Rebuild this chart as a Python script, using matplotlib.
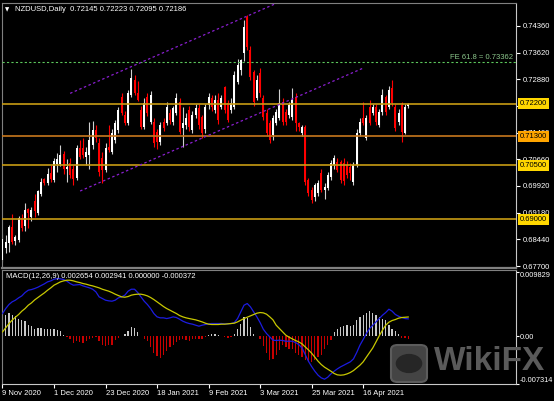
import matplotlib.pyplot as plt
from matplotlib.patches import FancyBboxPatch, Circle

plt.rcParams['font.family'] = ['Liberation Sans', 'DejaVu Sans']

# daily OHLC (bar 0 = 9 Nov 2020)
opens = [0.6787, 0.6820, 0.6834, 0.6878, 0.6839, 0.6842, 0.6903, 0.6880, 0.6928, 0.6906,
         0.6950, 0.6917, 0.6970, 0.7011, 0.7000, 0.7028, 0.7008, 0.7053, 0.7053, 0.7081,
         0.7039, 0.7056, 0.7040, 0.7014, 0.7097, 0.7097, 0.7072, 0.7078, 0.7106, 0.7147,
         0.7111, 0.7070, 0.7036, 0.7100, 0.7086, 0.7120, 0.7147, 0.7239, 0.7189, 0.7167,
         0.7245, 0.7286, 0.7250, 0.7203, 0.7156, 0.7239, 0.7170, 0.7170, 0.7142, 0.7114,
         0.7170, 0.7167, 0.7195, 0.7170, 0.7195, 0.7225, 0.7153, 0.7161, 0.7203, 0.7147,
         0.7189, 0.7208, 0.7184, 0.7150, 0.7217, 0.7236, 0.7203, 0.7231, 0.7211, 0.7267,
         0.7222, 0.7203, 0.7211, 0.7281, 0.7314, 0.7361, 0.7461, 0.7369, 0.7308, 0.7236,
         0.7306, 0.7236, 0.7195, 0.7167, 0.7134, 0.7167, 0.7181, 0.7225, 0.7197, 0.7189,
         0.7183, 0.7239, 0.7167, 0.7139, 0.7156, 0.7009, 0.6981, 0.6962, 0.6973, 0.7028,
         0.6981, 0.6986, 0.7017, 0.7050, 0.7058, 0.7058, 0.7055, 0.7050, 0.7045, 0.7003,
         0.7050, 0.7139, 0.7181, 0.7125, 0.7211, 0.7195, 0.7211, 0.7161, 0.7197, 0.7239,
         0.7211, 0.7264, 0.7211, 0.7170, 0.7217, 0.7140, 0.72145]
highs = [0.6858, 0.6856, 0.6885, 0.6914, 0.6856, 0.6910, 0.6914, 0.6945, 0.6932, 0.6934,
         0.6970, 0.6982, 0.7014, 0.7014, 0.7042, 0.7050, 0.7070, 0.7084, 0.7106, 0.7090,
         0.7067, 0.7070, 0.7050, 0.7106, 0.7120, 0.7125, 0.7100, 0.7170, 0.7172, 0.7160,
         0.7125, 0.7085, 0.7110, 0.7160, 0.7150, 0.7175, 0.7210, 0.7250, 0.7200, 0.7258,
         0.7317, 0.7300, 0.7283, 0.7215, 0.7235, 0.7250, 0.7255, 0.7180, 0.7150, 0.7170,
         0.7180, 0.7225, 0.7205, 0.7215, 0.7250, 0.7236, 0.7210, 0.7195, 0.7215, 0.7200,
         0.7220, 0.7220, 0.7190, 0.7220, 0.7250, 0.7245, 0.7245, 0.7250, 0.7245, 0.7270,
         0.7230, 0.7235, 0.7310, 0.7345, 0.7345, 0.7453, 0.7466, 0.7380, 0.7315, 0.7300,
         0.7320, 0.7245, 0.7205, 0.7175, 0.7190, 0.7205, 0.7260, 0.7235, 0.7205, 0.7225,
         0.7265, 0.7250, 0.7170, 0.7160, 0.7160, 0.7015, 0.6990, 0.7000, 0.7010, 0.7040,
         0.7000, 0.7030, 0.7065, 0.7078, 0.7070, 0.7065, 0.7070, 0.7060, 0.7055, 0.7058,
         0.7150, 0.7180, 0.7225, 0.7190, 0.7230, 0.7220, 0.7220, 0.7205, 0.7260, 0.7245,
         0.7270, 0.7286, 0.7220, 0.7205, 0.7225, 0.7220, 0.72223]
lows = [0.6780, 0.6805, 0.6808, 0.6830, 0.6828, 0.6838, 0.6868, 0.6866, 0.6875, 0.6895,
        0.6906, 0.6912, 0.6965, 0.6995, 0.6995, 0.7003, 0.7003, 0.7031, 0.7048, 0.7026,
        0.7003, 0.7015, 0.6995, 0.7008, 0.7066, 0.7070, 0.7050, 0.7040, 0.7095, 0.7115,
        0.7020, 0.7000, 0.7030, 0.7085, 0.7080, 0.7110, 0.7140, 0.7190, 0.7160, 0.7160,
        0.7240, 0.7245, 0.7228, 0.7150, 0.7150, 0.7185, 0.7165, 0.7100, 0.7094, 0.7105,
        0.7145, 0.7160, 0.7165, 0.7160, 0.7190, 0.7135, 0.7100, 0.7150, 0.7145, 0.7140,
        0.7180, 0.7150, 0.7125, 0.7140, 0.7205, 0.7200, 0.7195, 0.7165, 0.7205, 0.7195,
        0.7170, 0.7195, 0.7205, 0.7275, 0.7300, 0.7340, 0.7370, 0.7285, 0.7215, 0.7230,
        0.7240, 0.7175, 0.7130, 0.7110, 0.7120, 0.7160, 0.7175, 0.7160, 0.7160, 0.7180,
        0.7175, 0.7145, 0.7145, 0.7130, 0.6995, 0.6965, 0.6945, 0.6950, 0.6965, 0.6975,
        0.6955, 0.6980, 0.7010, 0.7040, 0.7030, 0.7000, 0.6995, 0.7015, 0.7010, 0.6995,
        0.7045, 0.7130, 0.7160, 0.7120, 0.7160, 0.7190, 0.7160, 0.7155, 0.7190, 0.7190,
        0.7205, 0.7215, 0.7145, 0.7160, 0.7115, 0.7135, 0.72095]
closes = [0.6845, 0.6837, 0.6878, 0.6837, 0.6850, 0.6903, 0.6875, 0.6925, 0.6917, 0.6925,
          0.6922, 0.6978, 0.7003, 0.7000, 0.7025, 0.7011, 0.7061, 0.7067, 0.7078, 0.7039,
          0.7045, 0.7022, 0.7011, 0.7097, 0.7072, 0.7078, 0.7086, 0.7120, 0.7147, 0.7125,
          0.7031, 0.7035, 0.7097, 0.7092, 0.7139, 0.7167, 0.7203, 0.7195, 0.7167, 0.7250,
          0.7292, 0.7250, 0.7231, 0.7156, 0.7222, 0.7195, 0.7245, 0.7111, 0.7114, 0.7161,
          0.7153, 0.7211, 0.7175, 0.7208, 0.7236, 0.7142, 0.7167, 0.7181, 0.7156, 0.7189,
          0.7208, 0.7161, 0.7139, 0.7210, 0.7239, 0.7211, 0.7231, 0.7175, 0.7236, 0.7203,
          0.7175, 0.7222, 0.7300, 0.7328, 0.7342, 0.7433, 0.7378, 0.7294, 0.7225, 0.7286,
          0.7250, 0.7183, 0.7139, 0.7120, 0.7181, 0.7197, 0.7222, 0.7170, 0.7170, 0.7217,
          0.7231, 0.7167, 0.7156, 0.7156, 0.7003, 0.6973, 0.6953, 0.6995, 0.7000, 0.6981,
          0.6989, 0.7022, 0.7056, 0.7070, 0.7036, 0.7008, 0.7005, 0.7022, 0.7028, 0.7050,
          0.7139, 0.7170, 0.7167, 0.7181, 0.7167, 0.7211, 0.7170, 0.7197, 0.7245, 0.7197,
          0.7258, 0.7222, 0.7153, 0.7195, 0.7142, 0.7212, 0.72186]

# MACD(12,26,9) panel
macd_main = [0.00347, 0.00423, 0.00485, 0.00526, 0.00551, 0.00587, 0.00617, 0.00668, 0.00704, 0.00714,
             0.00730, 0.00750, 0.00776, 0.00801, 0.00832, 0.00847, 0.00872, 0.00883, 0.00878, 0.00867,
             0.00842, 0.00806, 0.00781, 0.00786, 0.00791, 0.00770, 0.00755, 0.00740, 0.00719, 0.00679,
             0.00602, 0.00577, 0.00551, 0.00541, 0.00536, 0.00551, 0.00587, 0.00602, 0.00628, 0.00689,
             0.00719, 0.00719, 0.00668, 0.00602, 0.00536, 0.00485, 0.00423, 0.00347, 0.00296, 0.00281,
             0.00281, 0.00270, 0.00281, 0.00296, 0.00286, 0.00260, 0.00230, 0.00209, 0.00194, 0.00184,
             0.00168, 0.00153, 0.00168, 0.00179, 0.00189, 0.00194, 0.00194, 0.00194, 0.00194, 0.00189,
             0.00189, 0.00194, 0.00209, 0.00270, 0.00372, 0.00474, 0.00500, 0.00449, 0.00372, 0.00296,
             0.00209, 0.00107, 0.00041, -0.00010, -0.00061, -0.00066, -0.00061, -0.00066, -0.00077, -0.00077,
             -0.00077, -0.00097, -0.00128, -0.00179, -0.00281, -0.00383, -0.00464, -0.00536, -0.00597, -0.00638,
             -0.00658, -0.00628, -0.00577, -0.00536, -0.00500, -0.00469, -0.00444, -0.00418, -0.00393, -0.00347,
             -0.00250, -0.00138, -0.00051, 0.00041, 0.00117, 0.00168, 0.00219, 0.00270, 0.00321, 0.00362,
             0.00413, 0.00383, 0.00332, 0.00306, 0.00286, 0.00270, 0.00265]
macd_signal = [0.00066, 0.00128, 0.00194, 0.00245, 0.00291, 0.00332, 0.00383, 0.00423, 0.00474, 0.00510,
               0.00556, 0.00592, 0.00628, 0.00663, 0.00704, 0.00740, 0.00781, 0.00806, 0.00832, 0.00847,
               0.00857, 0.00857, 0.00847, 0.00832, 0.00821, 0.00806, 0.00796, 0.00781, 0.00770, 0.00755,
               0.00740, 0.00719, 0.00704, 0.00689, 0.00668, 0.00643, 0.00622, 0.00602, 0.00597, 0.00607,
               0.00628, 0.00638, 0.00643, 0.00643, 0.00633, 0.00617, 0.00592, 0.00561, 0.00526, 0.00490,
               0.00454, 0.00423, 0.00398, 0.00372, 0.00347, 0.00316, 0.00296, 0.00281, 0.00270, 0.00260,
               0.00250, 0.00235, 0.00219, 0.00199, 0.00184, 0.00179, 0.00179, 0.00179, 0.00184, 0.00184,
               0.00189, 0.00194, 0.00199, 0.00219, 0.00245, 0.00270, 0.00291, 0.00311, 0.00332, 0.00352,
               0.00362, 0.00357, 0.00337, 0.00296, 0.00250, 0.00168, 0.00117, 0.00066, 0.00015, -0.00015,
               -0.00041, -0.00066, -0.00087, -0.00117, -0.00163, -0.00209, -0.00260, -0.00321, -0.00383, -0.00434,
               -0.00474, -0.00505, -0.00536, -0.00571, -0.00592, -0.00597, -0.00592, -0.00577, -0.00556, -0.00526,
               -0.00485, -0.00444, -0.00393, -0.00321, -0.00250, -0.00179, -0.00087, 0.00005, 0.00092, 0.00168,
               0.00214, 0.00240, 0.00255, 0.00276, 0.00286, 0.00290, 0.00294]
macd_hist = [0.00270, 0.00332, 0.00362, 0.00332, 0.00311, 0.00270, 0.00255, 0.00230, 0.00179, 0.00158,
             0.00117, 0.00128, 0.00128, 0.00117, 0.00117, 0.00107, 0.00107, 0.00102, 0.00077, 0.00015,
             -0.00010, -0.00046, -0.00097, -0.00077, -0.00087, -0.00097, -0.00071, -0.00046, -0.00026, -0.00010,
             -0.00077, -0.00138, -0.00153, -0.00138, -0.00128, -0.00061, -0.00026, 0.00005, 0.00026, 0.00077,
             0.00143, 0.00128, 0.00066, 0.0, -0.00036, -0.00077, -0.00163, -0.00250, -0.00301, -0.00332,
             -0.00281, -0.00230, -0.00163, -0.00128, -0.00087, -0.00061, -0.00046, -0.00061, -0.00077, -0.00046,
             -0.00036, -0.00046, -0.00036, -0.00010, 0.00015, 0.00026, 0.00031, 0.00015, 0.00005, -0.00010,
             -0.00026, -0.00010, 0.00026, 0.00107, 0.00194, 0.00296, 0.00281, 0.00143, 0.00041, 0.00005,
             -0.00046, -0.00148, -0.00250, -0.00367, -0.00352, -0.00291, -0.00214, -0.00138, -0.00163, -0.00189,
             -0.00189, -0.00250, -0.00291, -0.00316, -0.00367, -0.00393, -0.00393, -0.00367, -0.00316, -0.00291,
             -0.00189, -0.00138, -0.00061, 0.00066, 0.00117, 0.00143, 0.00158, 0.00168, 0.00158, 0.00168,
             0.00245, 0.00296, 0.00321, 0.00357, 0.00383, 0.00357, 0.00321, 0.00296, 0.00270, 0.00245,
             0.00168, 0.00117, 0.00077, 0.00026, -0.00026, -0.00026, -0.00037]

date_ticks = [0, 16, 32, 48, 64, 80, 96, 112]
date_labels = ['9 Nov 2020', '1 Dec 2020', '23 Dec 2020', '18 Jan 2021',
               '9 Feb 2021', '3 Mar 2021', '25 Mar 2021', '16 Apr 2021']
price_ticks = [0.7436, 0.7362, 0.7288, 0.7214, 0.7140, 0.7066, 0.6992, 0.6918, 0.6844, 0.6770]
levels = [0.7220, 0.7130, 0.7050, 0.6900]
level_line_colors = ['#c89b14', '#c8781e', '#c89b14', '#c89b14']
level_box_colors = ['#ffd700', '#ffa500', '#ffd700', '#ffd700']
fe_level = 0.73362
channel_up_x, channel_up_y = [21.0, 84.6], [0.7249, 0.7497]
channel_lo_x, channel_lo_y = [24.1, 112.0], [0.6978, 0.7319]

W, H = 554, 401


def box(l, t, r, b):
    return [l / W, 1 - b / H, (r - l) / W, (b - t) / H]


fig = plt.figure(figsize=(W / 100, H / 100), dpi=100, facecolor='black')
ax = fig.add_axes(box(2, 3, 516, 268))
ax2 = fig.add_axes(box(2, 270, 516, 384), sharex=ax)

x = list(range(len(closes)))

# candles
for i in x:
    o, h, l, c = opens[i], highs[i], lows[i], closes[i]
    up = c >= o
    body = '#ffffff' if up else '#ff0000'
    wick = '#d0d0d0' if up else '#ff0000'
    ax.vlines(i, l, h, color=wick, lw=0.8, zorder=2)
    ax.bar(i, max(abs(c - o), 0.00012), bottom=min(o, c), width=0.62,
           color=body, linewidth=0, zorder=3)

# support / resistance levels
for lvl, lc in zip(levels, level_line_colors):
    ax.axhline(lvl, color=lc, lw=1.2, zorder=4)

ax.axhline(fe_level, color='#5cc85c', lw=0.8, ls=(0, (2, 2)), zorder=4)
ax.text(0.995, fe_level + 0.0011, 'FE 61.8 = 0.73362', transform=ax.get_yaxis_transform(),
        ha='right', va='center', color='#8cc88c', fontsize=5.5)

ax.plot(channel_up_x, channel_up_y, color='#8a1fd0', lw=0.9, ls=(0, (2, 2)), zorder=4)
ax.plot(channel_lo_x, channel_lo_y, color='#8a1fd0', lw=0.9, ls=(0, (2, 2)), zorder=4)

ax.set_xlim(-0.155, 159.47)
ax.set_ylim(0.67645, 0.74997)
ax.set_facecolor('black')
ax.yaxis.tick_right()
ax.set_yticks(price_ticks)
# 0.72140 sits fully under the 0.72200 level box, so its label is left blank
ax.set_yticklabels(['' if p == 0.7214 else f'{p:.5f}' for p in price_ticks])
ax.tick_params(axis='y', colors='white', labelsize=5.5, length=3, width=0.8, pad=2)
ax.tick_params(axis='x', bottom=False, labelbottom=False)

for lvl, bc in zip(levels, level_box_colors):
    ax.text(1.007, lvl, f'{lvl:.5f}', transform=ax.get_yaxis_transform(),
            ha='left', va='center', color='black', fontsize=5.5, zorder=10, clip_on=False,
            bbox=dict(boxstyle='square,pad=0.25', fc=bc, ec='none'))

for side in ['left', 'top']:
    ax.spines[side].set_color('#808080')
ax.spines['bottom'].set_color('#808080')
ax.spines['bottom'].set_linewidth(1.6)
ax.spines['right'].set_color('#c8c8c8')

# MACD panel
hist_colors = ['#c8c8c8' if v >= 0 else '#c80000' for v in macd_hist]
ax2.bar(x, macd_hist, width=0.4, color=hist_colors, linewidth=0, zorder=2)
ax2.plot(x, macd_main, color='#1c1ce0', lw=0.9, zorder=3)
ax2.plot(x, macd_signal, color='#c8c800', lw=0.9, zorder=3)
ax2.set_ylim(-0.007317, 0.010133)
ax2.set_facecolor('black')
ax2.yaxis.tick_right()
ax2.set_yticks([0.009829, 0.0, -0.007314])
ax2.set_yticklabels(['0.009829', '0.00', '-0.007314'])
ylabs = ax2.get_yticklabels()
ylabs[0].set_va('top')
ylabs[2].set_va('bottom')
ax2.tick_params(axis='y', colors='white', labelsize=5.3, length=2, width=0.8, pad=1)
ax2.set_xticks(date_ticks)
ax2.set_xticklabels(date_labels, ha='left')
ax2.tick_params(axis='x', colors='white', labelsize=5.5, length=3, width=0.8, pad=1.5)
ax2.spines['top'].set_color('#808080')
ax2.spines['left'].set_color('#808080')
ax2.spines['right'].set_color('#c8c8c8')
ax2.spines['bottom'].set_color('#c8c8c8')

# header texts
fig.text(7 / W, 1 - 9.5 / H, '\u25bc', color='white', fontsize=4,
         ha='center', va='center', family='DejaVu Sans')
fig.text(15 / W, 1 - 9.3 / H, 'NZDUSD,Daily  0.72145 0.72223 0.72095 0.72186',
         color='white', fontsize=5.5, va='center')
fig.text(6 / W, 1 - 277 / H, 'MACD(12,26,9) 0.002654 0.002941 0.000000 -0.000372',
         color='white', fontsize=5.5, va='center')

# WikiFX watermark
logo = FancyBboxPatch((391 / W, 1 - 382 / H), 36 / W, 37 / H, transform=fig.transFigure,
                      boxstyle='round,pad=0,rounding_size=0.012', fc='#444444',
                      ec='#5c5c5c', lw=1.5, zorder=20)
fig.patches.append(logo)
fig.patches.append(Circle((409 / W, 1 - 363.5 / H), 0.024, transform=fig.transFigure,
                          fc='#262626', ec='none', zorder=21))
fig.text(434 / W, 1 - 361 / H, 'WikiFX', color='#5a5a5a', fontsize=24,
         fontweight='bold', ha='left', va='center', zorder=20)

fig.savefig('out.png', dpi=100, facecolor='black')
